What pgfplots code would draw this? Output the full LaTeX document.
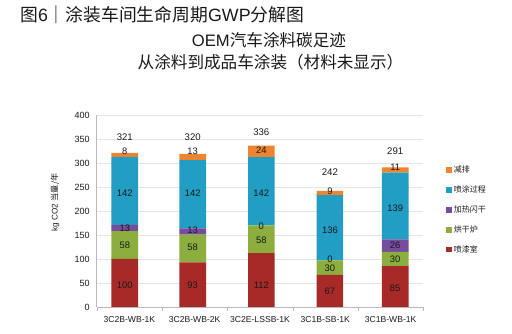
\documentclass[border=0pt]{standalone}
\usepackage{pgfplots}
\pgfplotsset{compat=1.18}
\usepackage{pgfplotstable}
\usepackage{fontspec}
\setmainfont{Liberation Sans}
\newfontfamily\cjk{Noto Sans CJK SC}
\definecolor{cRed}{RGB}{168,42,40}
\definecolor{cGreen}{RGB}{140,174,62}
\definecolor{cPurple}{RGB}{118,76,156}
\definecolor{cBlue}{RGB}{34,158,196}
\definecolor{cOrange}{RGB}{238,132,48}
\definecolor{txt}{RGB}{25,25,25}
\definecolor{axisgray}{RGB}{185,185,185}
\definecolor{gridgray}{RGB}{228,228,228}
\newcommand{\fs}[1]{\fontsize{#1}{#1}\selectfont}
\pgfplotstableread{
x y lab
-0.07 45.8 100
-0.07 127.8 58
-0.07 163.9 13
-0.07 236.8 142
-0.07 323.6 8
0.97 46 93
0.97 124 58
0.97 159 13
0.97 237 142
0.97 323.6 13
2.02 46 112
2.02 138.5 58
2.02 169 0
2.02 237 142
2.02 327 24
3.07 32 67
3.07 80.5 30
3.07 99 0
3.07 160 136
3.07 242 9
4.07 39 85
4.07 99 30
4.07 127.8 26
4.07 205.6 139
4.07 292 11
}\seglabels
\pgfplotstableread{
x y lab
-0.07 353.5 321
0.97 354 320
2.02 364 336
3.07 280 242
4.07 323.6 291
}\totlabels
\begin{document}
\begin{tikzpicture}
\useasboundingbox (0,0) rectangle (512pt,334pt);
\node[anchor=west, text=txt, inner sep=0] at (20pt,319pt) {\fs{17.8}{\cjk 图}6{\cjk ｜涂装车间生命周期}GWP{\cjk 分解图}};
\node[text=txt, inner sep=0] at (269pt,294pt) {\fs{16.6}OEM{\cjk 汽车涂料碳足迹}};
\node[text=txt, inner sep=0] at (270.5pt,272pt) {\fs{16.6}\cjk 从涂料到成品车涂装（材料未显示）};
\begin{axis}[
  at={(96.7pt,27pt)}, anchor=south west,
  scale only axis, width=326.6pt, height=192pt,
  xmin=-0.5, xmax=4.5, ymin=0, ymax=400,
  ybar stacked, bar width=26.6pt,
  axis x line*=bottom, axis y line*=left,
  axis line style={axisgray, -},
  ytick={0,50,...,400},
  ymajorgrids, grid style={gridgray, line width=0.5pt},
  major tick length=0pt,
  xtick={0,...,4},
  xticklabels={3C2B-WB-1K,3C2B-WB-2K,3C2E-LSSB-1K,3C1B-SB-1K,3C1B-WB-1K},
  minor xtick={-0.5,0.5,...,4.5},
  minor tick length=4pt, tick align=outside,
  minor tick style={axisgray},
  /pgf/number format/assume math mode=true,
  yticklabel style={font=\fs{9}, text=txt, xshift=-3.5pt},
  xticklabel style={font=\fs{8.6}, text=txt, yshift=-5.5pt},
  ylabel={kg CO2 {\cjk 当量/年}},
  ylabel style={at={(axis description cs:-0.128,0.545)}, anchor=center, font=\fs{8.2}, text=txt},
  legend style={at={(1.07,0.745)}, anchor=north west, draw=none, fill=none, font=\fs{8}, text=txt, row sep=7.6pt, inner sep=0pt},
  legend cell align=left,
  reverse legend,
  legend image code/.code={\fill[#1] (0pt,-2.8pt) rectangle (5.6pt,2.8pt);},
]
\addplot[fill=cRed, draw=none] coordinates {(-0.07,100) (0.97,93) (2.02,112) (3.07,67) (4.07,85)};
\addlegendentry{\cjk 喷漆室}
\addplot[fill=cGreen, draw=none] coordinates {(-0.07,58) (0.97,58) (2.02,58) (3.07,30) (4.07,30)};
\addlegendentry{\cjk 烘干炉}
\addplot[fill=cPurple, draw=none] coordinates {(-0.07,13) (0.97,13) (2.02,0) (3.07,0) (4.07,26)};
\addlegendentry{\cjk 加热闪干}
\addplot[fill=cBlue, draw=none] coordinates {(-0.07,142) (0.97,142) (2.02,142) (3.07,136) (4.07,139)};
\addlegendentry{\cjk 喷涂过程}
\addplot[fill=cOrange, draw=none] coordinates {(-0.07,8) (0.97,13) (2.02,24) (3.07,9) (4.07,11)};
\addlegendentry{\cjk 减排}
\end{axis}
\begin{axis}[
  at={(96.7pt,27pt)}, anchor=south west,
  scale only axis, width=326.6pt, height=192pt,
  xmin=-0.5, xmax=4.5, ymin=0, ymax=400,
  hide axis, clip=false,
]
\addplot[only marks, mark=*, mark size=0pt, mark options={draw=none, fill=none},
  nodes near coords, point meta=explicit symbolic, nodes near coords align={center},
  every node near coord/.style={anchor=center, inner sep=0pt, font=\fs{9.4}, text=txt}]
  table[x=x, y=y, meta=lab] {\seglabels};
\addplot[only marks, mark=*, mark size=0pt, mark options={draw=none, fill=none},
  nodes near coords, point meta=explicit symbolic, nodes near coords align={center},
  every node near coord/.style={anchor=center, inner sep=0pt, font=\fs{9.6}, text=txt}]
  table[x=x, y=y, meta=lab] {\totlabels};
\end{axis}
\end{tikzpicture}
\end{document}
